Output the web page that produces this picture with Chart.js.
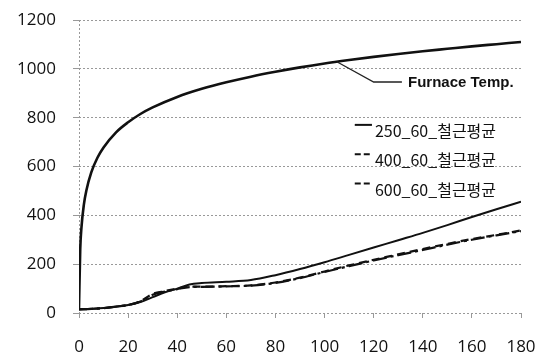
<!DOCTYPE html>
<html>
<head>
<meta charset="utf-8">
<script src="https://cdn.jsdelivr.net/npm/chart.js@4/dist/chart.umd.min.js"></script>
<style>
  html, body { margin: 0; padding: 0; background: #fff; }
  #wrap { width: 541px; height: 356px; }
</style>
</head>
<body>
<div id="wrap"><canvas id="tempChart" width="541" height="356"></canvas></div>
<script>
// 노 온도 (분, °C)
const furnaceMinutes = [0, 0.5, 1, 2, 3, 5, 7.5, 10, 15, 20, 25, 30, 40, 50, 60, 70, 80, 90, 100, 110, 120, 130, 140, 150, 160, 170, 180];
const furnaceTemp = [20, 260, 350, 445, 502, 576, 636, 678, 739, 781, 815, 842, 885, 918, 945, 968, 988, 1006, 1022, 1036, 1049, 1061, 1072, 1082, 1092, 1101, 1110];

// 철근 평균 온도
const minutes = [0, 5, 10, 15, 20, 25, 30, 35, 40, 45, 50, 60, 70, 80, 90, 100, 110, 120, 130, 140, 150, 160, 170, 180];
const rebar250 = [15, 17, 20, 26, 33, 45, 65, 85, 100, 117, 123, 128, 135, 155, 180, 208, 238, 268, 298, 328, 360, 393, 425, 456];
const rebar400 = [15, 17, 20, 26, 33, 48, 78, 90, 100, 108, 108, 110, 113, 125, 145, 170, 195, 218, 240, 262, 283, 303, 320, 338];
const rebar600 = [15, 17, 20, 26, 33, 47, 75, 88, 98, 106, 107, 109, 112, 123, 143, 168, 192, 215, 237, 258, 280, 300, 318, 335];

const seriesNames = ["250_60_철근평균", "400_60_철근평균", "600_60_철근평균"];
const seriesDash = [[], [8, 5], [14, 4, 3, 4]];
const furnaceLabel = "Furnace Temp.";

function pairs(xs, ys) {
    return xs.map((x, i) => ({ x: x, y: ys[i] }));
}

// 범례와 주석 (플롯 안쪽에 직접 그림)
const insideLabels = {
    id: 'insideLabels',
    afterDraw(chart) {
        const ctx = chart.ctx;
        const xs = chart.scales.x;
        const ys = chart.scales.y;
        ctx.save();

        // Furnace Temp. 지시선
        ctx.strokeStyle = '#222';
        ctx.lineWidth = 1.3;
        ctx.beginPath();
        ctx.moveTo(xs.getPixelForValue(105), ys.getPixelForValue(1029));
        ctx.lineTo(xs.getPixelForValue(120), ys.getPixelForValue(946));
        ctx.lineTo(xs.getPixelForValue(131.5), ys.getPixelForValue(946));
        ctx.stroke();
        ctx.fillStyle = '#111';
        ctx.font = 'bold 15px "Liberation Sans", Arial, sans-serif';
        ctx.textBaseline = 'middle';
        ctx.textAlign = 'left';
        ctx.fillText(furnaceLabel, xs.getPixelForValue(134), ys.getPixelForValue(942));

        // 범례
        const legendY = [750, 630, 510];
        ctx.font = '16px "Noto Sans CJK KR", sans-serif';
        seriesNames.forEach((name, i) => {
            const y = ys.getPixelForValue(legendY[i]);
            ctx.strokeStyle = '#111';
            ctx.lineWidth = 2;
            ctx.setLineDash(seriesDash[i].length ? [6, 3] : []);
            ctx.beginPath();
            ctx.moveTo(xs.getPixelForValue(112.3), y - 5);
            ctx.lineTo(xs.getPixelForValue(119.3), y - 5);
            ctx.stroke();
            ctx.setLineDash([]);
            ctx.fillText(name, xs.getPixelForValue(120.5), y + 1);
        });
        ctx.restore();
    }
};

const ctx = document.getElementById('tempChart').getContext('2d');
const lineStyle = { fill: false, pointRadius: 0, borderColor: '#111', cubicInterpolationMode: 'monotone' };
const tickFont = { family: '"Open Sans", sans-serif', size: 17 };

new Chart(ctx, {
    type: 'line',
    data: {
        datasets: [
            Object.assign({ label: furnaceLabel, data: pairs(furnaceMinutes, furnaceTemp), borderWidth: 2.6 }, lineStyle),
            Object.assign({ label: seriesNames[0], data: pairs(minutes, rebar250), borderWidth: 2, borderDash: seriesDash[0] }, lineStyle),
            Object.assign({ label: seriesNames[1], data: pairs(minutes, rebar400), borderWidth: 2.2, borderDash: seriesDash[1] }, lineStyle),
            Object.assign({ label: seriesNames[2], data: pairs(minutes, rebar600), borderWidth: 2.2, borderDash: seriesDash[2] }, lineStyle)
        ]
    },
    options: {
        responsive: false,
        animation: false,
        layout: { padding: { left: 0, top: 20, right: 20, bottom: 0 } },
        plugins: {
            legend: { display: false },
            tooltip: { enabled: false }
        },
        scales: {
            x: {
                type: 'linear',
                min: 0,
                max: 180,
                afterFit(scale) {
                    scale.height = 43;
                    scale.paddingLeft = 0;
                    scale.paddingRight = 0;
                },
                ticks: {
                    stepSize: 20,
                    padding: 19,
                    color: '#111',
                    font: tickFont,
                    callback: (v) => String(v)
                },
                grid: {
                    color: (c) => (c.tick && c.tick.value === 0) ? '#999' : 'rgba(0,0,0,0)',
                    tickColor: '#999',
                    tickLength: 5,
                    lineWidth: 1
                },
                border: { display: false, dash: [2, 2] }
            },
            y: {
                min: 0,
                max: 1200,
                afterFit(scale) {
                    scale.width = 79;
                    scale.paddingTop = 0;
                    scale.paddingBottom = 0;
                },
                ticks: {
                    stepSize: 200,
                    padding: 17,
                    color: '#111',
                    font: tickFont,
                    callback: (v) => String(v)
                },
                grid: {
                    color: '#999',
                    tickColor: '#999',
                    tickLength: 6,
                    lineWidth: 1
                },
                border: { display: false, dash: [2, 2] }
            }
        }
    },
    plugins: [insideLabels]
});
</script>
</body>
</html>
